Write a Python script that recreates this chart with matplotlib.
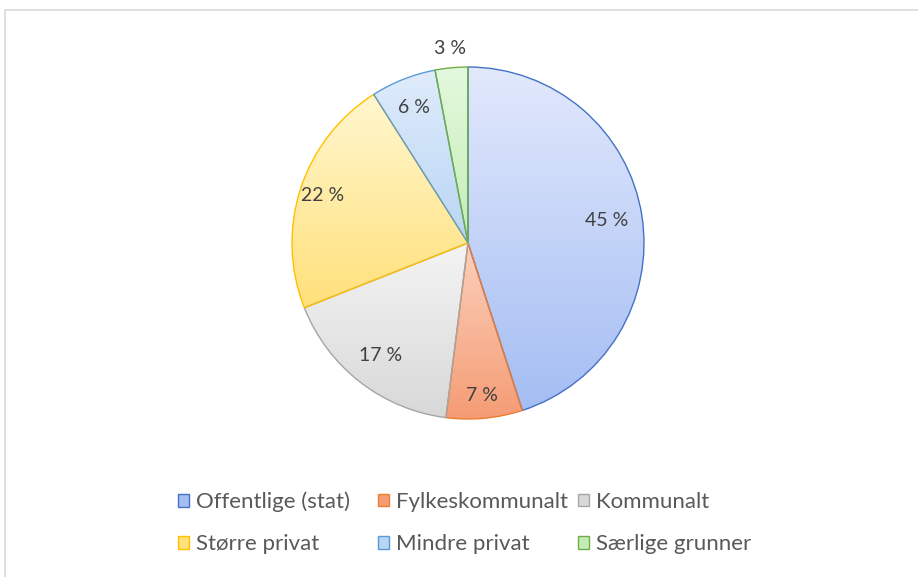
import numpy as np
import matplotlib
matplotlib.use("Agg")
import matplotlib.pyplot as plt
from matplotlib.colors import LinearSegmentedColormap
from matplotlib.patches import Patch, Rectangle

# Data
categories = ["Offentlige (stat)", "Fylkeskommunalt", "Kommunalt",
              "Større privat", "Mindre privat", "Særlige grunner"]
shares = [45, 7, 17, 22, 6, 3]
pct_labels = ["45 %", "7 %", "17 %", "22 %", "6 %", "3 %"]

# Styling (Office-like gradient fills: light top -> darker bottom)
top_colors = ["#e2e9fc", "#fcd0bc", "#f4f4f4", "#fff7cf", "#dfecfb", "#e4f8dd"]
bottom_colors = ["#a4bdf3", "#f59c74", "#d8d8d8", "#ffe07a", "#b9d5f4", "#c4edb6"]
edge_colors = ["#4472c4", "#ed7d31", "#a5a5a5", "#ffc000", "#5b9bd5", "#70ad47"]
label_dist = [0.80, 0.87, 0.81, 0.87, 0.83, 1.11]

plt.rcParams['font.family'] = ['Lato', 'DejaVu Sans']

fig = plt.figure(figsize=(9.18, 5.77), dpi=100)
fig.patches.append(Rectangle((5 / 918, -0.1), 1.0, 1 - 10 / 577 + 0.1,
                             transform=fig.transFigure, fill=False,
                             edgecolor="#d9d9d9", linewidth=1.2))

# pie axes in pixel-like units: center (468, 243), radius 176
R = 176
ax = fig.add_axes([(468 - 200) / 918, (577 - 243 - 200) / 577, 400 / 918, 400 / 577])
ax.set_xlim(-200, 200)
ax.set_ylim(-200, 200)
ax.set_aspect("equal")
ax.axis("off")

wedges, _ = ax.pie(shares, radius=R, startangle=90, counterclock=False,
                   colors=top_colors,
                   wedgeprops=dict(linewidth=1.0))

grad = np.linspace(0, 1, 256).reshape(-1, 1)
for w, tc, bc, ec in zip(wedges, top_colors, bottom_colors, edge_colors):
    w.set_facecolor("none")
    w.set_edgecolor(ec)
    w.set_zorder(3)
    verts = w.get_path().vertices
    ymin, ymax = verts[:, 1].min(), verts[:, 1].max()
    xmin, xmax = verts[:, 0].min(), verts[:, 0].max()
    cmap = LinearSegmentedColormap.from_list("g", [bc, tc])
    im = ax.imshow(grad, cmap=cmap, extent=[xmin, xmax, ymin, ymax],
                   aspect="auto", zorder=2, origin="lower")
    im.set_clip_path(w)

ax.set_xlim(-200, 200)
ax.set_ylim(-200, 200)

# percentage labels
cum = np.cumsum([0] + shares[:-1])
for c, s, lab, d in zip(cum, shares, pct_labels, label_dist):
    mid = c + s / 2
    ang = np.deg2rad(90 - 360 * mid / 100)
    ax.text(d * R * np.cos(ang), d * R * np.sin(ang), lab,
            ha="center", va="center", fontsize=14, color="#404040", zorder=5)

handles = [Patch(facecolor=bc, edgecolor=ec, linewidth=1.0)
           for bc, ec in zip(bottom_colors, edge_colors)]

# legend: 3 equal-width columns, filled row by row
col_x = [178, 378, 578]
for j, x in enumerate(col_x):
    idx = [j, j + 3]
    fig.legend([handles[i] for i in idx], [categories[i] for i in idx],
               loc="center left", bbox_to_anchor=(x / 918, 1 - 523 / 577),
               frameon=False, fontsize=16, labelcolor="#595959",
               borderpad=0, borderaxespad=0,
               handlelength=0.5, handleheight=0.5, handletextpad=0.3,
               labelspacing=1.0)

fig.savefig("out.png", dpi=100)
